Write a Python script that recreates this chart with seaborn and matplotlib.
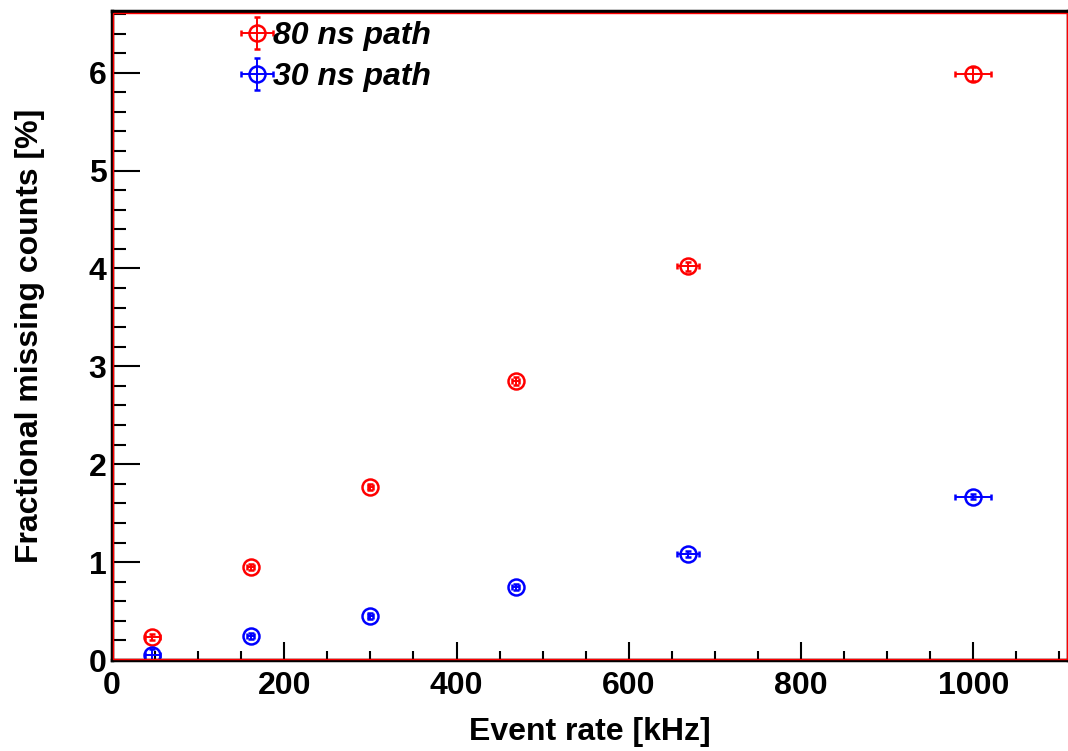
import numpy as np
import pandas as pd
import matplotlib
matplotlib.use('Agg')
import matplotlib.pyplot as plt
from matplotlib.patches import Rectangle
from matplotlib.ticker import MultipleLocator
import seaborn as sns

# data
rate = [47, 161, 300, 469, 669, 1000]
rate_err = [9, 4, 3, 4, 13, 21]
miss_80 = [0.235, 0.95, 1.77, 2.85, 4.02, 5.99]
miss_80_err = [0.03, 0.03, 0.03, 0.04, 0.05, 0.07]
miss_30 = [0.05, 0.245, 0.45, 0.75, 1.08, 1.67]
miss_30_err = [0.06, 0.03, 0.03, 0.03, 0.03, 0.03]
labels = ["80 ns path", "30 ns path"]
colors = ["red", "blue"]

df = pd.concat([
    pd.DataFrame({"rate": rate, "rate_err": rate_err, "miss": miss_80,
                  "miss_err": miss_80_err, "path": labels[0]}),
    pd.DataFrame({"rate": rate, "rate_err": rate_err, "miss": miss_30,
                  "miss_err": miss_30_err, "path": labels[1]}),
])

sns.set_style("ticks")
plt.rcParams['font.family'] = ['Liberation Sans', 'DejaVu Sans']
plt.rcParams['font.weight'] = 'bold'
for k in ['text.color', 'axes.labelcolor', 'xtick.color', 'ytick.color', 'axes.edgecolor']:
    plt.rcParams[k] = 'black'

fig = plt.figure(figsize=(10.68, 7.51), dpi=100)
ax = fig.add_axes([112/1068, 1-660/751, 1-112/1068, (660-11)/751])

for lab, col in zip(labels, colors):
    d = df[df.path == lab]
    ax.errorbar(d.rate, d.miss, xerr=d.rate_err, yerr=d.miss_err, fmt='o',
                ms=11.5, mfc='none', mec=col, mew=1.8, color=col, elinewidth=1.4,
                capsize=2.5, capthick=1.4, label=lab)

ax.set_xlim(0, 1110)
ax.set_ylim(0, 6.63)
ax.xaxis.set_major_locator(MultipleLocator(200))
ax.xaxis.set_minor_locator(MultipleLocator(50))
ax.yaxis.set_major_locator(MultipleLocator(1))
ax.yaxis.set_minor_locator(MultipleLocator(0.2))

ax.tick_params(axis='x', which='major', direction='in', length=13, width=1.5,
               labelsize=23, pad=8, top=False)
ax.tick_params(axis='x', which='minor', direction='in', length=6.5, width=1.5, top=False)
ax.tick_params(axis='y', which='major', direction='in', length=20, width=1.5,
               labelsize=23, pad=4, right=False)
ax.tick_params(axis='y', which='minor', direction='in', length=10, width=1.5, right=False)
for t in ax.get_xticklabels() + ax.get_yticklabels():
    t.set_fontweight('bold')

for s in ax.spines.values():
    s.set_color('black')
    s.set_linewidth(2.5)
ax.add_patch(Rectangle((0.0015, 0.002), 0.997, 0.995, transform=ax.transAxes,
                       fill=False, edgecolor='red', lw=1, clip_on=False, zorder=5))

ax.set_xlabel("Event rate [kHz]", fontsize=23, fontweight='bold')
ax.set_ylabel("Fractional missing counts [%]", fontsize=23, fontweight='bold')
ax.xaxis.set_label_coords(0.5, -0.088)
ax.yaxis.set_label_coords(-0.070, 0.5)

leg = ax.legend(loc='upper left', bbox_to_anchor=(0.108, 1.029), frameon=False,
                handletextpad=0.1, handlelength=0.8, labelspacing=0.36,
                prop={'size': 23, 'weight': 'bold', 'style': 'italic'})

fig.savefig('out.png', dpi=100)
